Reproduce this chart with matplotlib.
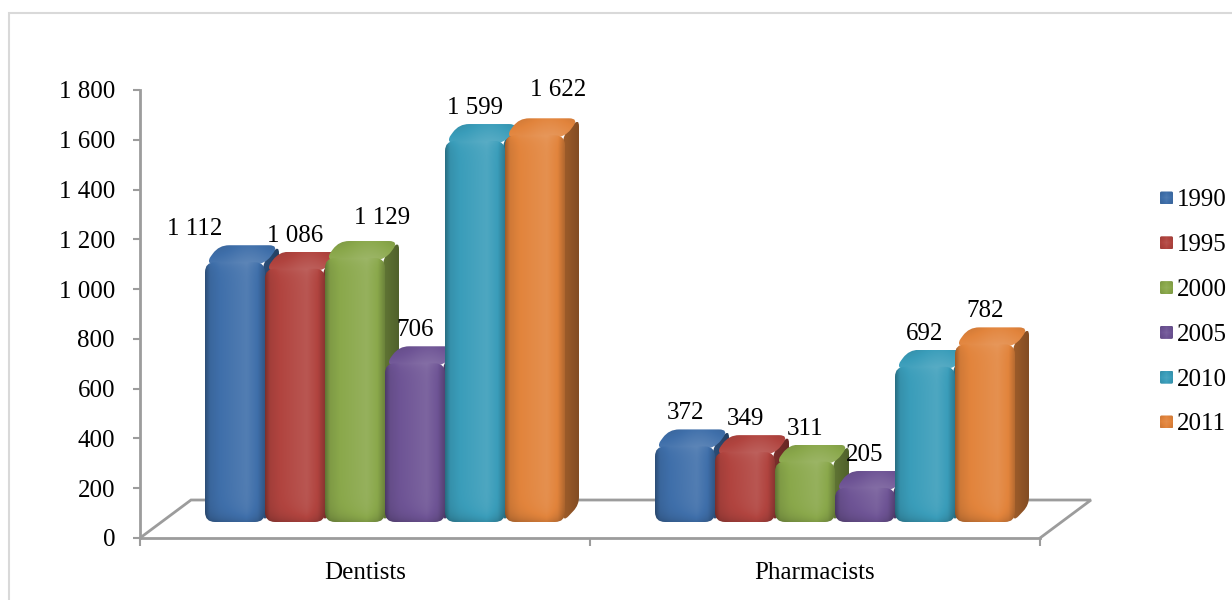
import numpy as np
import matplotlib
matplotlib.use("Agg")
import matplotlib.pyplot as plt
from matplotlib.path import Path
from matplotlib.patches import PathPatch, Rectangle
from matplotlib.colors import to_rgb
from matplotlib.ticker import FuncFormatter

# ---- data -------------------------------------------------------------
categories = ["Dentists", "Pharmacists"]
years = ["1990", "1995", "2000", "2005", "2010", "2011"]
dentists = [1112, 1086, 1129, 706, 1599, 1622]
pharmacists = [372, 349, 311, 205, 692, 782]
series_colors = ["#3F6FAA", "#B1443F", "#8AA84B", "#6E5495", "#3A9DBA", "#E2843C"]
value_ticks = [0, 200, 400, 600, 800, 1000, 1200, 1400, 1600, 1800]

values = [dentists, pharmacists]

# ---- style ------------------------------------------------------------
W, H, DPI = 1232, 600, 100
FONT = "Liberation Serif"
FS = 18
GRAY = "#9C9C9C"
plt.rcParams["font.family"] = [FONT, "DejaVu Serif"]

FLOOR_DEPTH = np.array([51.0, 38.0])   # px, receding direction of the floor
BAR_SHIFT = np.array([20.0, 16.0])     # bars stand part-way into the floor
CAP = np.array([14.0, 17.0])           # depth of each bar block
BAR_FRAC = 60.0 / 450.0                # bar width as a share of a category

# label nudges (px) where labels were moved aside to avoid overlaps
label_nudge = {(0, 0): (-40, 0), (0, 2): (27, 7), (0, 5): (23, 12)}


def fmt(v):
    return f"{int(v):,}".replace(",", " ")


fig = plt.figure(figsize=(W / DPI, H / DPI), dpi=DPI)
fig.patch.set_facecolor("white")

# value axis and category axis
ax = fig.add_axes([140 / W, 62 / H, 900 / W, 448 / H])
ax.set_xlim(0, len(categories))
ax.set_ylim(0, 1800)
ax.patch.set_visible(False)
for s in ("top", "right"):
    ax.spines[s].set_visible(False)
for s in ("left", "bottom"):
    ax.spines[s].set_color(GRAY)
    ax.spines[s].set_linewidth(2)
ax.set_yticks(value_ticks)
ax.yaxis.set_major_formatter(FuncFormatter(lambda v, p: fmt(v)))
ax.tick_params(axis="y", length=5, width=1.5, color=GRAY, labelsize=FS, pad=13)
ax.set_xticks([i + 0.5 for i in range(len(categories))], categories)
ax.set_xticks(range(len(categories) + 1), minor=True)
ax.tick_params(axis="x", which="major", length=0, labelsize=FS, pad=17)
ax.tick_params(axis="x", which="minor", length=6, width=1.5, color=GRAY)

# overlay in pixel units for the 3-D drawing
ov = fig.add_axes([0, 0, 1, 1], zorder=5)
ov.set_autoscale_on(False)
ov.set_xlim(0, W)
ov.set_ylim(0, H)
ov.axis("off")


def to_px(x, v):
    return ax.transData.transform((x, v))


def rounded_path(pts, r):
    pts = np.asarray(pts, float)
    n = len(pts)
    verts, codes = [], []
    for i in range(n):
        p, prev, nxt = pts[i], pts[i - 1], pts[(i + 1) % n]
        v1, v2 = prev - p, nxt - p
        l1, l2 = np.hypot(*v1), np.hypot(*v2)
        rr = min(r, l1 / 2.0, l2 / 2.0)
        a = p + v1 / l1 * rr
        b = p + v2 / l2 * rr
        verts.append(a)
        codes.append(Path.MOVETO if i == 0 else Path.LINETO)
        verts += [p, b]
        codes += [Path.CURVE3, Path.CURVE3]
    verts.append(verts[0])
    codes.append(Path.CLOSEPOLY)
    return Path(verts, codes)


def tone(rgb, k):
    k = np.asarray(k)[..., None]
    dark = rgb * (1 + np.minimum(k, 0))
    return np.clip(dark + (1 - dark) * np.maximum(k, 0), 0, 1)


def fill_gradient(path, rgb, kmap, z):
    patch = PathPatch(path, facecolor="none", edgecolor="none", zorder=z)
    ov.add_patch(patch)
    bb = path.get_extents()
    im = ov.imshow(tone(rgb, kmap), extent=(bb.x0, bb.x1, bb.y0, bb.y1),
                   origin="lower", aspect="auto", interpolation="bilinear", zorder=z)
    im.set_clip_path(patch)


def draw_bar(x0, y0, w, cap_top, color):
    rgb = np.array(to_rgb(color))
    dx, dy = CAP
    yt = cap_top - dy                     # top edge of the front face
    # right side face
    side = [(x0 + w - 2, y0), (x0 + w + dx, y0 + dy), (x0 + w + dx, yt + dy), (x0 + w - 2, yt)]
    xs = np.linspace(0, 1, 12)[None, :]
    ys = np.linspace(0, 1, 40)[:, None]
    fill_gradient(rounded_path(side, 8), rgb, -0.30 - 0.12 * xs + 0 * ys, 3)
    # top face
    top = [(x0, yt - 2), (x0 + w, yt - 2), (x0 + w + dx, yt + dy), (x0 + dx, yt + dy)]
    xs = np.linspace(0, 1, 60)[None, :]
    ys = np.linspace(0, 1, 20)[:, None]
    ktop = 0.04 + 0.12 * np.exp(-((xs - 0.6) / 0.35) ** 2) - 0.14 * ys
    fill_gradient(rounded_path(top, 10), rgb, ktop, 4)
    # front face
    front = [(x0, y0), (x0 + w, y0), (x0 + w, yt), (x0, yt)]
    xs = np.linspace(0, 1, 80)[None, :]
    ys = np.linspace(0, 1, 200)[:, None]
    kx = np.interp(xs, [0, 0.08, 0.25, 0.7, 0.88, 1.0], [-0.30, -0.08, 0.0, 0.10, 0.0, -0.22])
    hpx = max(yt - y0, 1)
    yy = ys * hpx
    ky = -0.18 * np.exp(-yy / 7.0) + 0.06 * np.exp(-(hpx - yy) / 6.0)
    fill_gradient(rounded_path(front, 10), rgb, kx + ky, 5)


# floor outline
fl = to_px(0, 0)
fr = to_px(len(categories), 0)
bl = fl + FLOOR_DEPTH
br = fr + FLOOR_DEPTH
ov.plot([fl[0], bl[0], br[0], fr[0]], [fl[1], bl[1], br[1], fr[1]],
        color=GRAY, lw=2, solid_joinstyle="miter", zorder=1)

# bars and value labels
n = len(years)
for ci, vals in enumerate(values):
    start = ci + 0.5 - n / 2 * BAR_FRAC
    for j, v in enumerate(vals):
        left = to_px(start + j * BAR_FRAC, 0)
        right = to_px(start + (j + 1) * BAR_FRAC, 0)
        x0 = left[0] + BAR_SHIFT[0]
        y0 = left[1] + BAR_SHIFT[1]
        w = right[0] - left[0]
        cap_top = y0 + (to_px(0, v)[1] - to_px(0, 0)[1])
        draw_bar(x0, y0, w, cap_top, series_colors[j])
        ndx, ndy = label_nudge.get((ci, j), (0, 0))
        ov.text(x0 + w / 2 + ndx, cap_top + 10 + ndy, fmt(v), ha="center",
                va="baseline", fontsize=FS, color="black", zorder=8)

# legend
for k, (yr, col) in enumerate(zip(years, series_colors)):
    yc = H - (198 + 44.8 * k)
    rgb = np.array(to_rgb(col))
    sq = rounded_path([(1160, yc - 6.5), (1173, yc - 6.5), (1173, yc + 6.5), (1160, yc + 6.5)], 1.5)
    xs = np.linspace(0, 1, 13)[None, :]
    ys = np.linspace(0, 1, 13)[:, None]
    fill_gradient(sq, rgb, 0.08 - 0.2 * np.abs(xs - 0.5) - 0.15 * np.abs(ys - 0.5), 6)
    ov.text(1177, yc, yr, ha="left", va="center_baseline", fontsize=FS, color="black", zorder=8)

# chart frame
ov.add_patch(Rectangle((9, -20), W + 40, H - 13 + 20, facecolor="none",
                       edgecolor="#D9D9D9", lw=1.5, zorder=0))

fig.savefig("out.png", dpi=DPI, facecolor="white")
